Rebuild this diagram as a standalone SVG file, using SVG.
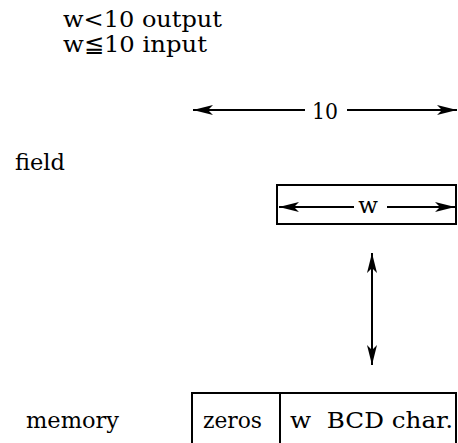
<svg xmlns="http://www.w3.org/2000/svg" width="458" height="443" viewBox="0 0 458 443">
<defs>
<marker id="ah" viewBox="0 0 20 10" refX="20" refY="5" markerWidth="20" markerHeight="10" markerUnits="userSpaceOnUse" orient="auto-start-reverse">
<path d="M0,0 L20,5 L0,10 L5,5 Z" fill="#000"/>
</marker>
</defs>
<style>
text{font-family:"DejaVu Serif","Liberation Serif",serif;font-size:23px;fill:#000}
.ln{stroke:#000;stroke-width:2;fill:none}
.bx{stroke:#000;stroke-width:2;fill:#fff}
</style>
<rect width="458" height="443" fill="#fff"/>
<g id="notes">
<text x="63" y="27" textLength="159" lengthAdjust="spacingAndGlyphs">w&lt;10 output</text>
<text x="63" y="52" textLength="144" lengthAdjust="spacingAndGlyphs">w≦10 input</text>
</g>
<g id="labels">
<text x="15" y="170" textLength="50" lengthAdjust="spacingAndGlyphs">field</text>
<text x="26" y="428" textLength="93" lengthAdjust="spacingAndGlyphs">memory</text>
</g>
<g id="field-box">
<rect class="bx" x="277" y="185" width="179" height="39"/>
<text x="368" y="213" text-anchor="middle">w</text>
</g>
<g id="memory-box">
<rect class="bx" x="192" y="393" width="264" height="60"/>
<line class="ln" x1="280" y1="393" x2="280" y2="443"/>
<text x="203" y="428" textLength="59" lengthAdjust="spacingAndGlyphs">zeros</text>
<text x="290" y="428" xml:space="preserve" textLength="163" lengthAdjust="spacingAndGlyphs">w  BCD char.</text>
</g>
<g id="connectors">
<line class="ln" x1="305" y1="110" x2="193" y2="110" marker-end="url(#ah)"/>
<line class="ln" x1="347" y1="110" x2="457" y2="110" marker-end="url(#ah)"/>
<text x="325" y="119" text-anchor="middle" textLength="26" lengthAdjust="spacingAndGlyphs">10</text>
<line class="ln" x1="354" y1="207" x2="279" y2="207" marker-end="url(#ah)"/>
<line class="ln" x1="387" y1="207" x2="455" y2="207" marker-end="url(#ah)"/>
<line class="ln" x1="372" y1="253" x2="372" y2="365" marker-start="url(#ah)" marker-end="url(#ah)"/>
</g>
</svg>
